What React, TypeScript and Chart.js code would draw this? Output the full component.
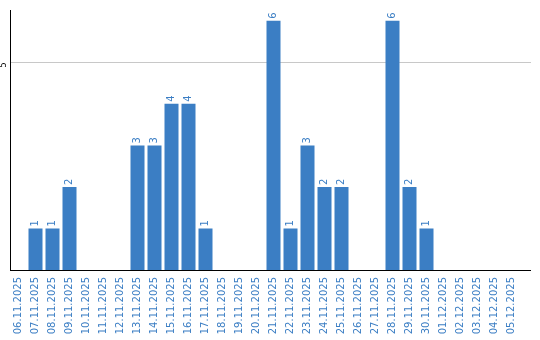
import React, { useEffect, useRef } from 'react';
import { Chart, registerables } from 'chart.js';

Chart.register(...registerables);

const categories = [
  '06.11.2025', '07.11.2025', '08.11.2025', '09.11.2025', '10.11.2025',
  '11.11.2025', '12.11.2025', '13.11.2025', '14.11.2025', '15.11.2025',
  '16.11.2025', '17.11.2025', '18.11.2025', '19.11.2025', '20.11.2025',
  '21.11.2025', '22.11.2025', '23.11.2025', '24.11.2025', '25.11.2025',
  '26.11.2025', '27.11.2025', '28.11.2025', '29.11.2025', '30.11.2025',
  '01.12.2025', '02.12.2025', '03.12.2025', '04.12.2025', '05.12.2025',
];
const values = [
  0, 1, 1, 2, 0, 0, 0, 3, 3, 4,
  4, 1, 0, 0, 0, 6, 1, 3, 2, 2,
  0, 0, 6, 2, 1, 0, 0, 0, 0, 0,
];
const yTickValues = [5];
const yMin = 0;
const yMax = 6.24;

const BLUE = '#3b7ec4';

const valueLabels = {
  id: 'valueLabels',
  afterDatasetsDraw(chart: any) {
    const ctx = chart.ctx;
    const meta = chart.getDatasetMeta(0);
    ctx.save();
    ctx.font = '10px "DejaVu Sans"';
    ctx.fillStyle = BLUE;
    ctx.textAlign = 'left';
    ctx.textBaseline = 'middle';
    meta.data.forEach((bar: any, i: number) => {
      const v = values[i];
      if (!v) return;
      ctx.save();
      ctx.translate(bar.x, bar.y - 2);
      ctx.rotate(-Math.PI / 2);
      ctx.fillText(String(v), 0, 0);
      ctx.restore();
    });
    ctx.restore();
  },
};

const extendLines = {
  id: 'extendLines',
  afterDraw(chart: any) {
    const ctx = chart.ctx;
    const area = chart.chartArea;
    const y = chart.scales.y;
    const ext = 11;
    ctx.save();
    ctx.lineWidth = 1;
    ctx.strokeStyle = '#c8c8c8';
    yTickValues.forEach((t) => {
      const py = Math.round(y.getPixelForValue(t)) + 0.5;
      ctx.beginPath();
      ctx.moveTo(area.right, py);
      ctx.lineTo(area.right + ext, py);
      ctx.stroke();
    });
    ctx.strokeStyle = '#000000';
    const p0 = Math.round(y.getPixelForValue(yMin)) + 0.5;
    ctx.beginPath();
    ctx.moveTo(area.right, p0);
    ctx.lineTo(area.right + ext, p0);
    ctx.stroke();
    ctx.restore();
  },
};

export default function App() {
  const ref = useRef<HTMLCanvasElement>(null);

  useEffect(() => {
    if (!ref.current) return;
    const chart = new Chart(ref.current, {
      type: 'bar',
      data: {
        labels: categories,
        datasets: [
          {
            data: values,
            backgroundColor: BLUE,
            borderWidth: 0,
            categoryPercentage: 1,
            barPercentage: 14 / 17,
          },
        ],
      },
      options: {
        animation: false,
        responsive: false,
        maintainAspectRatio: false,
        layout: { padding: { top: 10, right: 20, left: 0, bottom: 0 } },
        plugins: {
          legend: { display: false },
          tooltip: { enabled: false },
        },
        scales: {
          x: {
            offset: true,
            grid: { display: false, drawTicks: false },
            border: { display: true, color: '#000000', width: 1 },
            ticks: {
              autoSkip: false,
              minRotation: 90,
              maxRotation: 90,
              padding: 7,
              color: BLUE,
              font: { family: 'DejaVu Sans', size: 10 },
            },
            afterFit: (s: any) => {
              s.height = 70;
            },
          },
          y: {
            min: yMin,
            max: yMax,
            grid: { color: '#c8c8c8', drawTicks: false, lineWidth: 1 },
            border: { display: true, color: '#000000', width: 1 },
            ticks: {
              minRotation: 90,
              maxRotation: 90,
              padding: 6,
              color: '#000000',
              font: { family: 'DejaVu Sans', size: 8 },
            },
            afterBuildTicks: (s: any) => {
              s.ticks = yTickValues.map((v) => ({ value: v }));
            },
            afterFit: (s: any) => {
              s.width = 10;
            },
          },
        },
      },
      plugins: [valueLabels, extendLines],
    });
    return () => chart.destroy();
  }, []);

  return (
    <div style={{ position: 'fixed', left: 0, top: 0, width: 540, height: 340, background: '#fff' }}>
      <canvas ref={ref} width={540} height={340} style={{ display: 'block' }} />
    </div>
  );
}
